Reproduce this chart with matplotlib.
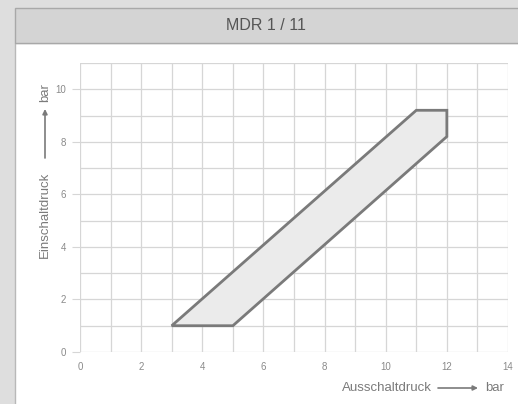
import matplotlib
matplotlib.use('Agg')
import matplotlib.pyplot as plt
from matplotlib.patches import Rectangle

# envelope of the switching range (Ausschaltdruck, Einschaltdruck)
aus_druck = [3, 5, 12, 12, 11]
ein_druck = [1, 1, 8.2, 9.2, 9.2]
x_ticks = [0, 2, 4, 6, 8, 10, 12, 14]
y_ticks = [0, 2, 4, 6, 8, 10]

FONT = ['Liberation Sans', 'DejaVu Sans']
LBL = '#7a7a7a'

W, H = 518, 404
fig = plt.figure(figsize=(W / 100, H / 100), dpi=100)
fig.patch.set_facecolor('#dedede')

def px(x, y):
    return x / W, 1 - y / H

def box(x0, y0, x1, y1, **kw):
    # pixel coords from top-left
    r = Rectangle(px(x0, y1), (x1 - x0) / W, (y1 - y0) / H,
                  transform=fig.transFigure, zorder=-5, **kw)
    fig.add_artist(r)

def arrow(p0, p1):
    fig.add_artist(matplotlib.patches.FancyArrowPatch(
        px(*p0), px(*p1), transform=fig.transFigure, arrowstyle='-|>',
        mutation_scale=7, color=LBL, lw=1.2, shrinkA=0, shrinkB=0))

box(15, 43, 520, 406, facecolor='white', edgecolor='#b8b8b8', lw=1)
box(15, 8, 520, 43, facecolor='#d4d4d4', edgecolor='#a8a8a8', lw=1)
fig.text(*px(266, 25), 'MDR 1 / 11', ha='center', va='center',
         fontsize=11.5, color='#555555', family=FONT)

ax = fig.add_axes([80 / W, 52 / H, 428 / W, 289 / H])
ax.patch.set_alpha(0)
ax.set_xlim(0, 14)
ax.set_ylim(0, 11)
for s in ax.spines.values():
    s.set_visible(False)

ax.fill(aus_druck, ein_druck, facecolor='#ebebeb', edgecolor='#7a7a7a', lw=2, zorder=3)

ax.set_xticks(x_ticks)
ax.set_xticks(range(15), minor=True)
ax.set_yticks(y_ticks)
ax.set_yticks(range(12), minor=True)
ax.grid(True, which='both', color='#d6d6d6', lw=0.9)
ax.set_axisbelow(True)
ax.tick_params(axis='x', length=0, which='both', labelsize=7, labelcolor='#8a8a8a', pad=7)
ax.tick_params(axis='y', which='major', length=6, color='#d6d6d6', labelsize=7,
               labelcolor='#8a8a8a', pad=4)
ax.tick_params(axis='y', which='minor', length=0)
for lab in ax.get_xticklabels() + ax.get_yticklabels():
    lab.set_family(FONT)

# y axis label with arrow
fig.text(*px(45, 258), 'Einschaltdruck', rotation=90, ha='center', va='bottom',
         fontsize=9.5, color=LBL, family=FONT)
arrow((45, 158), (45, 109))
fig.text(*px(45, 83), 'bar', rotation=90, ha='center', va='top',
         fontsize=9.5, color=LBL, family=FONT)

# x axis label with arrow
fig.text(*px(432, 388), 'Ausschaltdruck', ha='right', va='center',
         fontsize=9.5, color=LBL, family=FONT)
arrow((438, 388), (478, 388))
fig.text(*px(485, 388), 'bar', ha='left', va='center',
         fontsize=9.5, color=LBL, family=FONT)

fig.savefig('out.png', dpi=100, facecolor=fig.get_facecolor())
